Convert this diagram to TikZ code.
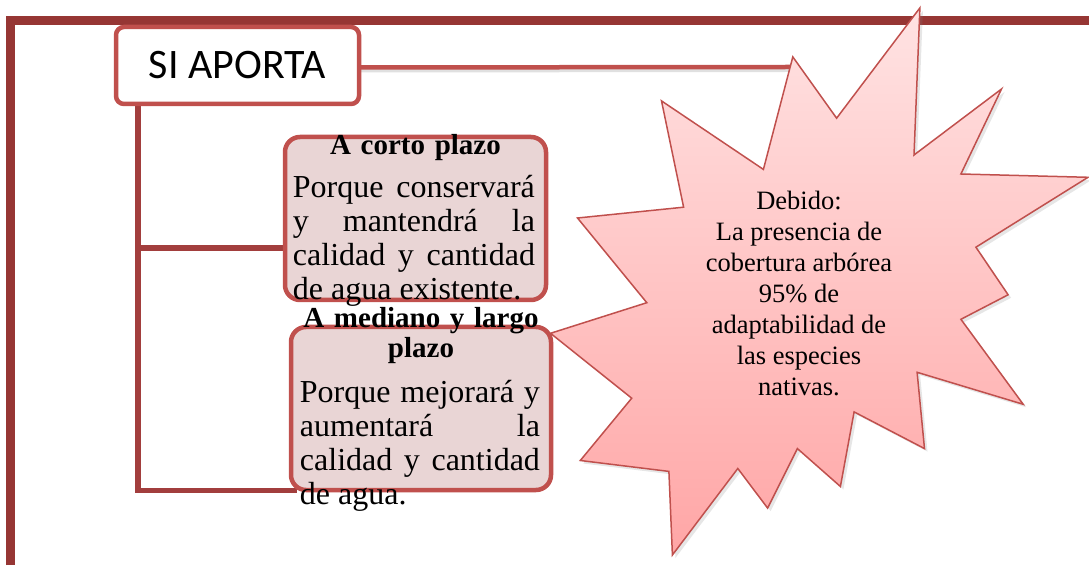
\documentclass[tikz,border=0pt]{standalone}
\usepackage{fontspec}
\setmainfont{Liberation Serif}
\newfontfamily\sifont{Carlito}
\usetikzlibrary{positioning,calc,shadows,backgrounds}
\definecolor{framered}{HTML}{963634}
\definecolor{linkred}{HTML}{A23E3D}
\definecolor{boxred}{HTML}{C0504D}
\definecolor{boxfill}{HTML}{E9D5D5}
\definecolor{startop}{HTML}{FFE3E3}
\definecolor{starbot}{HTML}{FFA6A6}
\newcommand\nohyph{\hyphenpenalty10000 \exhyphenpenalty10000 \tolerance9999 \relax}

\begin{document}
\begin{tikzpicture}[x=1pt,y=1pt,
  frameline/.style={line width=9pt, draw=framered},
  link/.style={line width=5.5pt, draw=linkred},
  sibox/.style={draw=boxred, line width=4.5pt, rounded corners=8pt, fill=white, minimum width=243pt, minimum height=77pt, font=\sifont\fontsize{42}{46}\selectfont},
  plazobox/.style={draw=boxred, line width=4.5pt, rounded corners=15pt, fill=boxfill, minimum width=261pt, minimum height=163pt},
  ttl/.style={font=\bfseries\fontsize{29}{30}\selectfont, text width=260pt, align=center, inner sep=0pt},
  para/.style={font=\fontsize{32}{34}\selectfont\nohyph, text width=242pt, align=justify, inner sep=0pt},
  startxt/.style={font=\fontsize{26.5}{31}\selectfont, align=center, inner sep=0pt}]
\useasboundingbox (0,0) rectangle (1089,565);
% marco
\draw[frameline] (10,0) -- (10,544.5) -- (1089,544.5);

% estrella
\draw[boxred, line width=1.5pt, top color=startop, bottom color=starbot,
  drop shadow={shadow xshift=3pt, shadow yshift=-3pt, opacity=0.2}]
  (919.9,557.1) -- (914,410) -- (1001.5,476) -- (960.9,391) -- (1088,387.7)
  -- (975.9,317.8) -- (1008.1,270.2) -- (960.9,245.7) -- (1023.2,160.7)
  -- (917.1,192.7) -- (924.5,116.4) -- (854.1,153.1) -- (840.4,78.5)
  -- (797.4,116.4) -- (767.6,56.9) -- (737.8,96.5) -- (672.4,10)
  -- (668.9,93.6) -- (580.3,104.5) -- (631.7,166.8) -- (550.5,231.7)
  -- (646.8,262.3) -- (577.5,347) -- (683.6,357.8) -- (661.5,464.1)
  -- (763.4,395.6) -- (792.8,508.1) -- (836.6,446.8) -- cycle;
\coordinate (starin) at (790.3,498);
\node[startxt] (debido) at (799,272) {Debido:\\La presencia de\\cobertura arbórea\\95\% de\\adaptabilidad de\\las especies\\nativas.};

% cajas
\node[sibox] (si) at (237.5,499.5) {SI APORTA};
\node[plazobox] (c1) at (415.5,346.5) {};
\node[plazobox, minimum width=260pt] (c2) at (421,156.5) {};

\node[ttl, anchor=base] (c1h) at ([yshift=-20pt]c1.north) {A corto plazo};
\node[para, anchor=base west] (c1p) at ([xshift=10pt,yshift=-63pt]c1.north west) {Porque conservará y mantendrá la calidad y cantidad de agua existente.};
\node[ttl, anchor=base] (c2h) at ([yshift=-3pt]c2.north) {A mediano y largo\\plazo};
\node[para, text width=240pt, anchor=base west] (c2p) at ([xshift=11pt,yshift=-78pt]c2.north west) {Porque mejorará~y aumentará la calidad y cantidad de agua.};

% conectores
\begin{scope}[on background layer]
\coordinate (trunk) at ([xshift=24pt]si.south west);
\draw[link] (trunk) |- ([yshift=-29.5pt]c1.west);
\draw[link] (trunk) |- ([xshift=8pt,yshift=2pt]c2.south west);
\draw[draw=black!12, line width=4pt] ([xshift=-23pt,yshift=-5pt]si.east) -- ([yshift=-3pt]starin);
\draw[draw=boxred, line width=4.5pt] ([xshift=-23pt,yshift=-2pt]si.east) -- (starin);
\end{scope}
\end{tikzpicture}
\end{document}
